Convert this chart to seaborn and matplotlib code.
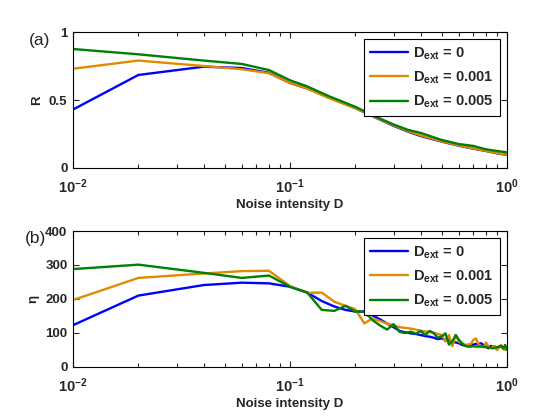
"""Coherence R and eta versus noise intensity D for three external noise levels."""

import matplotlib
matplotlib.use("Agg")
import matplotlib.pyplot as plt
import seaborn as sns
from matplotlib.ticker import LogLocator, NullFormatter

# panel (a): R vs D
D_R = [0.01, 0.02, 0.04, 0.06, 0.08, 0.10, 0.12, 0.15, 0.20, 0.25,
       0.30, 0.35, 0.40, 0.50, 0.60, 0.70, 0.80, 0.90, 1.00]
R_0 = [0.43, 0.684, 0.745, 0.735, 0.70, 0.625, 0.585, 0.52, 0.44, 0.368,
       0.31, 0.267, 0.235, 0.194, 0.164, 0.142, 0.125, 0.108, 0.096]
R_001 = [0.73, 0.79, 0.75, 0.726, 0.697, 0.625, 0.585, 0.516, 0.44, 0.37,
         0.314, 0.271, 0.24, 0.196, 0.166, 0.144, 0.126, 0.11, 0.097]
R_005 = [0.875, 0.836, 0.79, 0.765, 0.72, 0.645, 0.60, 0.53, 0.45, 0.375,
         0.32, 0.28, 0.258, 0.206, 0.176, 0.162, 0.137, 0.125, 0.115]

# panel (b): eta vs D
D_ETA = [0.01, 0.02, 0.04, 0.06, 0.08, 0.10, 0.12, 0.14, 0.16, 0.18,
         0.20, 0.22, 0.24, 0.26, 0.28, 0.30, 0.32, 0.34, 0.36, 0.38,
         0.40, 0.42, 0.44, 0.46, 0.48, 0.50, 0.52, 0.54, 0.56, 0.58,
         0.60, 0.62, 0.64, 0.66, 0.68, 0.70, 0.72, 0.74, 0.76, 0.78,
         0.80, 0.82, 0.84, 0.86, 0.88, 0.90, 0.92, 0.94, 0.96, 0.98, 1.00]
ETA_0 = [123, 210, 241, 248, 246, 236, 219, 194, 178, 168,
         163, 163, 152, 140, 128, 117, 106, 102, 99, 97,
         94, 91, 89, 86, 82, 84, 80, 79, 75, 72,
         70, 65, 63, 62, 64, 66, 68, 67, 70, 64,
         60, 55, 62, 60, 60, 56, 58, 62, 55, 60, 56]
ETA_001 = [197, 262, 275, 282, 283, 238, 218, 219, 192, 180,
           170, 128, 143, 135, 128, 122, 117, 115, 113, 110,
           107, 104, 104, 101, 97, 94, 75, 94, 61, 94,
           75, 70, 65, 66, 67, 80, 84, 65, 62, 58,
           72, 60, 55, 60, 58, 50, 60, 65, 52, 50, 56]
ETA_005 = [288, 301, 277, 262, 269, 236, 219, 168, 165, 180,
           163, 163, 138, 122, 110, 126, 103, 100, 104, 98,
           106, 94, 106, 99, 86, 90, 99, 66, 75, 94,
           80, 70, 62, 60, 60, 61, 60, 60, 60, 60,
           58, 57, 57, 55, 56, 58, 60, 62, 55, 65, 50]

LABELS = [r"$D_{ext}$ = 0", r"$D_{ext}$ = 0.001", r"$D_{ext}$ = 0.005"]
COLORS = ["#0000ff", "#e08a00", "#008000"]

sns.set_style("ticks")
plt.rcParams["font.family"] = ["Liberation Sans", "DejaVu Sans"]
plt.rcParams["font.weight"] = "bold"
plt.rcParams["mathtext.fontset"] = "custom"
plt.rcParams["mathtext.rm"] = "Liberation Sans:bold"
plt.rcParams["mathtext.it"] = "Liberation Sans:bold"
plt.rcParams["mathtext.bf"] = "Liberation Sans:bold"

XTICKS = [0.01, 0.1, 1.0]
XTICKLABELS = [r"$10^{-2}$", r"$10^{-1}$", r"$10^{0}$"]


def style_axes(ax, yticks, ylabel):
    ax.set_xscale("log")
    ax.set_xlim(0.01, 1.0)
    ax.set_ylim(yticks[0], yticks[-1])
    ax.set_yticks(yticks)
    ax.set_yticklabels([f"{t:g}" for t in yticks], fontsize=9.5, fontweight="bold")
    ax.set_xticks(XTICKS)
    ax.set_xticklabels(XTICKLABELS, fontsize=10.5)
    ax.xaxis.set_minor_locator(LogLocator(base=10, subs=range(2, 10)))
    ax.xaxis.set_minor_formatter(NullFormatter())
    ax.tick_params(which="both", direction="in", top=True, right=True, width=0.8)
    ax.tick_params(which="major", length=4)
    ax.tick_params(axis="x", which="major", pad=7)
    ax.tick_params(axis="y", which="major", pad=4)
    ax.tick_params(which="minor", length=3)
    for sp in ax.spines.values():
        sp.set_linewidth(0.8)
        sp.set_color("black")
    ax.set_xlabel("Noise intensity D", fontsize=9.5, fontweight="bold", labelpad=2)
    ax.set_ylabel(ylabel, fontsize=9.5, fontweight="bold", labelpad=4)
    ax.legend(loc="upper right", fontsize=10.5, frameon=True, fancybox=False,
              edgecolor="black", framealpha=1, handlelength=2.6,
              handletextpad=0.35, labelspacing=0.55, borderaxespad=0.5,
              borderpad=0.4)
    ax.get_legend().get_frame().set_linewidth(0.8)


fig = plt.figure(figsize=(5.6, 4.2), dpi=100)
ax1 = fig.add_axes([0.1304, 0.6, 0.775, 0.3238])
ax2 = fig.add_axes([0.1304, 0.1262, 0.775, 0.3238])

for ys, lab, col in zip([R_0, R_001, R_005], LABELS, COLORS):
    sns.lineplot(x=D_R, y=ys, ax=ax1, color=col, linewidth=1.7, label=lab)
for ys, lab, col in zip([ETA_0, ETA_001, ETA_005], LABELS, COLORS):
    sns.lineplot(x=D_ETA, y=ys, ax=ax2, color=col, linewidth=1.7, label=lab)

style_axes(ax1, [0, 0.5, 1], "R")
style_axes(ax2, [0, 100, 200, 300, 400], "η")

fig.text(40 / 560, 1 - 41 / 420, "(a)", fontsize=12.5, fontweight="normal",
         ha="center", va="center")
fig.text(35 / 560, 1 - 238 / 420, "(b)", fontsize=12.5, fontweight="normal",
         ha="center", va="center")

fig.savefig("out.png", dpi=100)
